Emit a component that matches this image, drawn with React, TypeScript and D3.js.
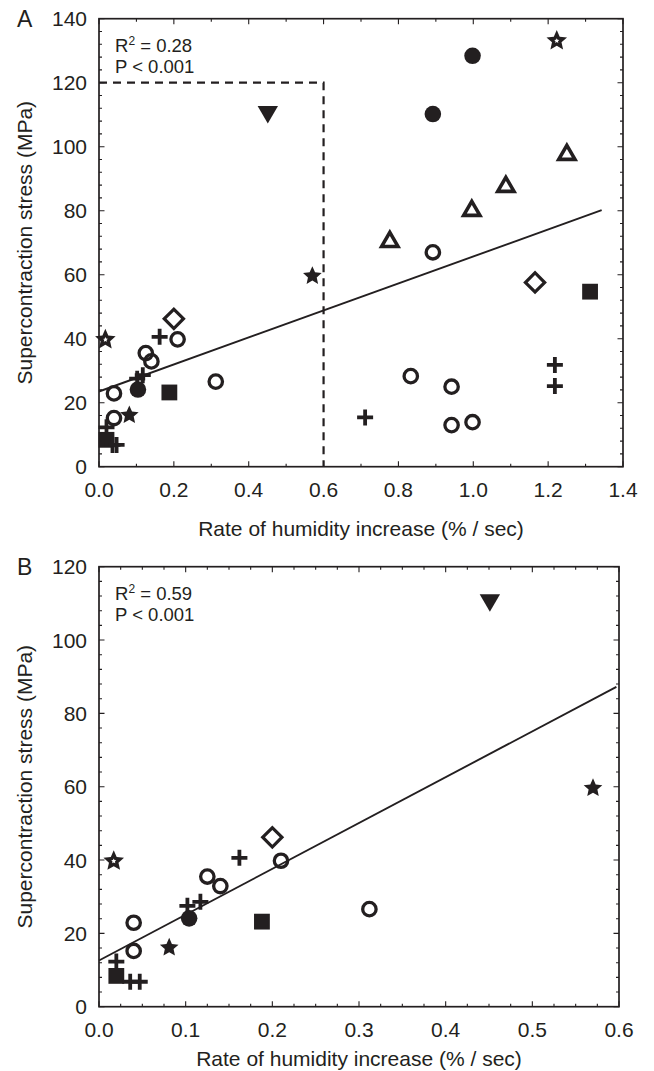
import React from "react";
import * as d3 from "d3";

const W = 654;
const H = 1071;
const FONT = "'Liberation Sans', Arial, Helvetica, sans-serif";
const INK = "#231f20";

// every sample: rate of humidity increase (% / sec), supercontraction stress (MPa), marker
const rate = [
  0.017, 0.2, 0.162, 0.21, 0.125, 0.14, 0.102, 0.117, 0.104, 0.188, 0.04, 0.04, 0.081, 0.02,
  0.02, 0.036, 0.047, 0.312, 0.451, 0.57,
  1.223, 0.998, 0.892, 1.25, 1.087, 0.996, 0.777, 0.892, 1.165, 1.312, 1.218, 1.218, 0.833,
  0.942, 0.942, 0.998, 0.711,
];
const stress = [
  39.7, 46.2, 40.6, 39.8, 35.5, 32.9, 27.5, 28.6, 24.1, 23.2, 22.9, 15.2, 16.1, 12.3,
  8.4, 6.8, 6.8, 26.6, 110.9, 59.6,
  133.1, 128.4, 110.2, 97.5, 87.5, 80.0, 70.3, 67.0, 57.6, 54.7, 31.8, 25.2, 28.3,
  25.0, 13.0, 13.9, 15.4,
];
const marker = [
  "starOpen", "diamond", "plus", "circle", "circle", "circle", "plus", "plus", "dot", "square",
  "circle", "circle", "star", "plus", "square", "plus", "plus", "circle", "triangleDown", "star",
  "starOpen", "dot", "dot", "triangle", "triangle", "triangle", "triangle", "circle", "diamond",
  "square", "plus", "plus", "circle", "circle", "circle", "circle", "plus",
];

// regression lines: [intercept, slope]
const fitA = [23.5, 42.2];
const fitB = [12.6, 125];
const statsA = ["0.28", "P < 0.001"];
const statsB = ["0.59", "P < 0.001"];

// dashed box in A marks the region enlarged in B
const zoomBox = [0.6, 120];

const xTitle = "Rate of humidity increase (% / sec)";
const yTitle = "Supercontraction stress (MPa)";

const points = rate.map((r, i) => ({ x: r, y: stress[i], type: marker[i] }));

const symbolPath = (type, size) => d3.symbol().type(type).size(size)();

// a chunkier five point star than d3.symbolStar
const starPath = (outer, inner) =>
  d3
    .lineRadial()
    .curve(d3.curveLinearClosed)
    .angle((d) => (d * Math.PI) / 5)
    .radius((d) => (d % 2 ? inner : outer))(d3.range(10));

const Marker = ({ type, cx, cy }) => {
  const t = `translate(${cx},${cy})`;
  switch (type) {
    case "circle":
      return <circle cx={cx} cy={cy} r={6.7} fill="none" stroke={INK} strokeWidth={3.3} />;
    case "dot":
      return <path transform={t} d={symbolPath(d3.symbolCircle, 216)} fill={INK} />;
    case "square":
      return <path transform={t} d={symbolPath(d3.symbolSquare, 250)} fill={INK} />;
    case "diamond":
      return (
        <path
          transform={`${t} rotate(45)`}
          d={symbolPath(d3.symbolSquare, 185)}
          fill="none"
          stroke={INK}
          strokeWidth={3.2}
        />
      );
    case "triangle":
      return (
        <path
          transform={t}
          d={symbolPath(d3.symbolTriangle, 115)}
          fill="none"
          stroke={INK}
          strokeWidth={3.6}
        />
      );
    case "triangleDown":
      return <path transform={`${t} rotate(180)`} d={symbolPath(d3.symbolTriangle, 180)} fill={INK} />;
    case "star":
      return <path transform={t} d={starPath(9.8, 4.6)} fill={INK} />;
    case "starOpen":
      return (
        <g transform={t}>
          <path d={starPath(10.8, 5)} fill={INK} />
          <path d={starPath(2.6, 1.3)} fill="#fff" />
        </g>
      );
    case "plus":
      return (
        <path transform={t} d="M-8,0H8M0,-8V8" stroke={INK} strokeWidth={3.8} fill="none" />
      );
    default:
      return null;
  }
};

const Panel = ({ label, box, xMax, xStep, xMinor, yMax, yStep, yMinor, data, fit, fitEnd, stats, dashed, titleY }) => {
  const [left, top, right, bottom] = box;
  const x = d3.scaleLinear().domain([0, xMax]).range([left, right]);
  const y = d3.scaleLinear().domain([0, yMax]).range([bottom, top]);

  const steps = (max, step) => d3.range(0, Math.round(max / step) + 1).map((i) => +(i * step).toFixed(4));
  const xMaj = steps(xMax, xStep);
  const yMaj = steps(yMax, yStep);
  const xMin = steps(xMax, xMinor);
  const yMin = steps(yMax, yMinor);
  const fmtX = d3.format(".1f");

  const line = d3
    .line()
    .x((d) => x(d))
    .y((d) => y(fit[0] + fit[1] * d));

  const tickPath = [];
  xMin.forEach((v) => {
    const len = xMaj.includes(v) ? 5.5 : 3;
    tickPath.push(`M${x(v)},${bottom}v${-len}M${x(v)},${top}v${len}`);
  });
  yMin.forEach((v) => {
    const len = yMaj.includes(v) ? 5.5 : 3;
    tickPath.push(`M${left},${y(v)}h${len}M${right},${y(v)}h${-len}`);
  });

  return (
    <g fontFamily={FONT} fill={INK}>
      <text x={17} y={top + 8} fontSize={23}>
        {label}
      </text>
      {yMaj.map((v) => (
        <text key={`y${v}`} x={left - 12} y={y(v)} dy="0.36em" textAnchor="end" fontSize={21}>
          {v}
        </text>
      ))}
      {xMaj.map((v) => (
        <text key={`x${v}`} x={x(v)} y={bottom + 30.5} textAnchor="middle" fontSize={21}>
          {fmtX(v)}
        </text>
      ))}
      <text x={(left + right) / 2} y={titleY} textAnchor="middle" fontSize={21}>
        {xTitle}
      </text>
      <text transform={`translate(32,${(top + bottom) / 2}) rotate(-90)`} textAnchor="middle" fontSize={21}>
        {yTitle}
      </text>
      <text x={left + 16} y={top + 33} fontSize={18.5}>
        R<tspan dy={-7} fontSize={12}>2</tspan>
        <tspan dy={7}> = {stats[0]}</tspan>
      </text>
      <text x={left + 16} y={top + 54.5} fontSize={18.5}>
        {stats[1]}
      </text>

      {dashed && (
        <path
          d={`M${x(0)},${y(dashed[1])}H${x(dashed[0])}V${y(0)}`}
          fill="none"
          stroke={INK}
          strokeWidth={2.2}
          strokeDasharray="8 6"
        />
      )}
      <path d={line(fitEnd)} fill="none" stroke={INK} strokeWidth={1.9} />

      {data.map((d, i) => (
        <Marker key={i} type={d.type} cx={x(d.x)} cy={y(d.y)} />
      ))}

      <path d={tickPath.join("")} stroke={INK} strokeWidth={1.1} fill="none" />
      <rect x={left} y={top} width={right - left} height={bottom - top} fill="none" stroke={INK} strokeWidth={1.7} />
    </g>
  );
};

export default function App() {
  const subset = points.filter((d) => d.x < zoomBox[0] && d.y < zoomBox[1]);
  return (
    <svg width={W} height={H} style={{ position: "absolute", left: 0, top: 0, background: "#fff" }}>
      <rect width={W} height={H} fill="#fff" />
      <Panel
        label="A"
        box={[99, 18.7, 623, 466.7]}
        xMax={1.4}
        xStep={0.2}
        xMinor={0.1}
        yMax={140}
        yStep={20}
        yMinor={4}
        data={points}
        fit={fitA}
        fitEnd={[0, 1.343]}
        stats={statsA}
        dashed={zoomBox}
        titleY={536}
      />
      <Panel
        label="B"
        box={[99, 566.7, 619, 1006.7]}
        xMax={0.6}
        xStep={0.1}
        xMinor={0.025}
        yMax={120}
        yStep={20}
        yMinor={4}
        data={subset}
        fit={fitB}
        fitEnd={[0, 0.597]}
        stats={statsB}
        dashed={null}
        titleY={1066}
      />
    </svg>
  );
}
